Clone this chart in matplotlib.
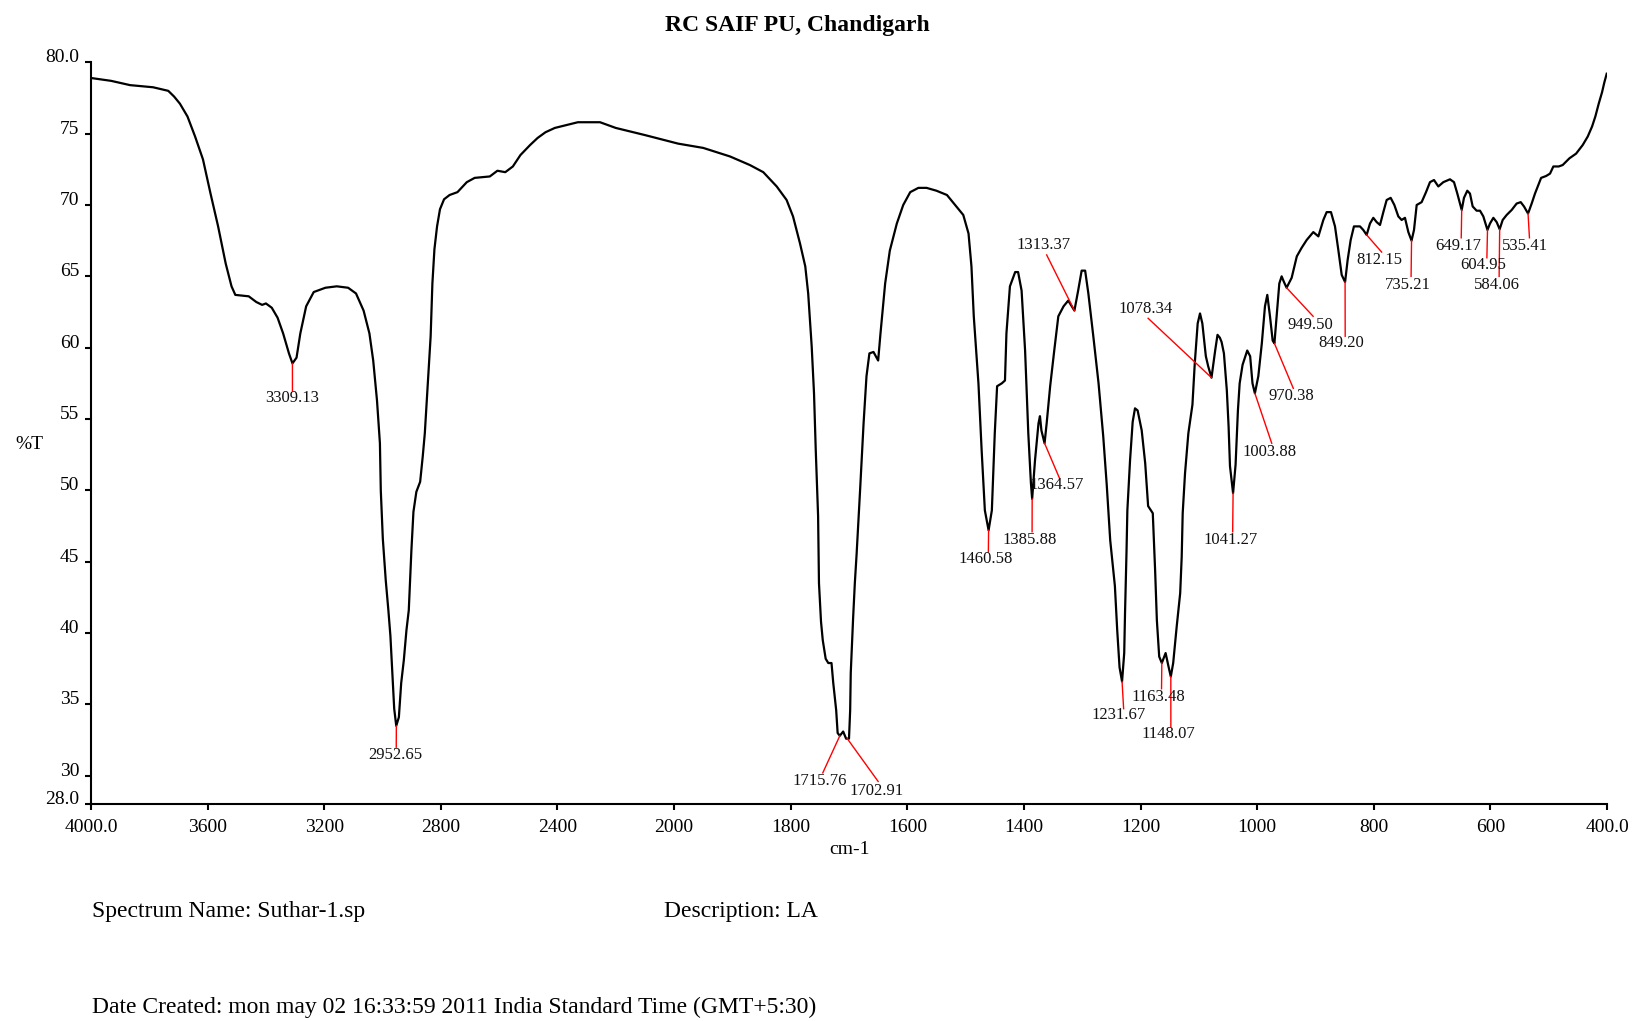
import numpy as np
import matplotlib
matplotlib.use('Agg')
import matplotlib.pyplot as plt

# spectrum (wavenumber cm-1, %T)
wavenumber = [
    4000, 3931, 3866, 3787, 3735, 3715, 3695, 3669, 3643, 3616, 3590, 3564, 3538, 3518, 3505,
    3459, 3433, 3413, 3400, 3380, 3360, 3341, 3321, 3309, 3295, 3282, 3262, 3236, 3196, 3157,
    3118, 3091, 3065, 3045, 3032, 3019, 3009, 3006, 2999, 2989, 2980, 2973, 2967, 2960, 2953,
    2944, 2936, 2927, 2918, 2910, 2901, 2894, 2884, 2871, 2862, 2855, 2844, 2835, 2829, 2822,
    2813, 2803, 2789, 2770, 2743, 2711, 2684, 2632, 2606, 2579, 2553, 2527, 2494, 2468, 2441,
    2409, 2369, 2330, 2254, 2200, 2100, 1993, 1950, 1904, 1870, 1847, 1824, 1807, 1796, 1784,
    1775, 1770, 1764, 1760, 1757, 1753, 1751.5, 1748, 1745, 1740, 1735.5, 1730, 1727, 1722,
    1719.5, 1715.8, 1710, 1705, 1700, 1698, 1697, 1693, 1690, 1687, 1681, 1675, 1670, 1665,
    1658, 1650, 1646, 1638, 1630, 1618, 1607, 1595, 1581, 1567, 1550, 1532, 1518, 1504, 1495,
    1490, 1486, 1478, 1472.5, 1467, 1460.6, 1455, 1450, 1446, 1438, 1432.5, 1430, 1424, 1415,
    1410, 1404, 1398, 1392.5, 1388, 1385.9, 1381, 1375, 1372.5, 1370, 1364.6, 1361, 1355, 1348,
    1341, 1332, 1324, 1313.4, 1307, 1301, 1295, 1289.5, 1281, 1272, 1264, 1258, 1252, 1244,
    1240, 1236, 1231.7, 1228, 1226.6, 1224, 1222.6, 1218, 1213.5, 1209.5, 1205, 1198, 1192,
    1187, 1179, 1175, 1172, 1168, 1163.5, 1157, 1152, 1148.1, 1144, 1138, 1132, 1129.4, 1127.7,
    1123.7, 1118, 1111, 1107, 1102, 1098, 1094, 1088, 1084, 1078.3, 1072, 1068, 1064, 1061,
    1057, 1052, 1049, 1046.6, 1041.3, 1037, 1033, 1030, 1025, 1017, 1012, 1008, 1003.9, 998,
    992, 986.6, 982.6, 978, 973.4, 970.4, 966.6, 962, 958, 954, 949.5, 940.8, 932, 923.7, 915,
    903.7, 895, 886.5, 880.8, 873.4, 866.5, 860.8, 855, 849.2, 844.8, 839.6, 834, 823.6, 818,
    812.2, 806.5, 800.8, 795, 789.3, 783.6, 777.9, 771, 764.7, 757.9, 752.2, 746.5, 740.7,
    735.2, 731, 726.4, 717.9, 710.4, 703.6, 696.7, 689.3, 680.7, 669.3, 662.4, 656.7, 649.2,
    645.3, 639.6, 635, 630.4, 623.6, 617.8, 612.1, 605, 600.7, 594.9, 589.2, 584.1, 578.9,
    572.1, 563.5, 555, 548, 542.4, 535.4, 529.2, 523.5, 518.8, 513, 504.5, 497.7, 492, 482.8,
    476, 464.5, 453, 441.7, 433, 425.6, 420, 414.2, 408.5, 404.5, 400.5,
]
transmittance = [
    78.9, 78.7, 78.4, 78.25, 78.0, 77.6, 77.1, 76.2, 74.8, 73.2, 70.8, 68.5, 65.9, 64.3, 63.7,
    63.6, 63.2, 63.0, 63.1, 62.8, 62.1, 61.0, 59.6, 58.9, 59.3, 61.0, 62.9, 63.9, 64.2, 64.3,
    64.2, 63.8, 62.6, 61.0, 59.1, 56.3, 53.3, 50.0, 46.6, 43.7, 41.6, 39.8, 37.4, 34.7, 33.5,
    34.1, 36.5, 38.1, 40.2, 41.6, 45.8, 48.5, 49.9, 50.6, 52.4, 54.0, 57.7, 60.8, 64.5, 66.9,
    68.5, 69.7, 70.4, 70.7, 70.9, 71.6, 71.9, 72.0, 72.4, 72.3, 72.7, 73.5, 74.2, 74.7, 75.1,
    75.4, 75.6, 75.8, 75.8, 75.4, 74.9, 74.3, 74.0, 73.4, 72.8, 72.3, 71.3, 70.35, 69.2, 67.3,
    65.7, 63.8, 60.1, 56.8, 52.8, 48.2, 43.5, 40.8, 39.5, 38.2, 37.9, 37.9, 36.5, 34.6,
    33.0, 32.8, 33.1, 32.6, 32.6, 34.6, 37.2, 41.0, 43.5, 45.5, 50.0, 54.7, 58.0, 59.6,
    59.7, 59.1, 61.0, 64.5, 66.8, 68.7, 70.0, 70.9, 71.2, 71.2, 71.0, 70.7, 70.0, 69.3, 68.0,
    65.7, 62.2, 57.5, 52.8, 48.6, 47.2, 48.6, 54.0, 57.3, 57.5, 57.7, 61.0, 64.3, 65.3,
    65.3, 64.0, 59.8, 54.0, 50.5, 49.4, 52.1, 54.7, 55.2, 54.2, 53.3, 54.7, 57.3, 59.8,
    62.2, 62.9, 63.3, 62.6, 64.0, 65.4, 65.4, 63.8, 60.8, 57.5, 53.8, 50.4, 46.5, 43.3,
    40.2, 37.6, 36.6, 38.6, 41.4, 45.8, 48.6, 52.1, 54.8, 55.75, 55.6, 54.2, 51.9,
    48.9, 48.4, 44.4, 40.9, 38.35, 37.9, 38.6, 37.65, 36.95, 37.9, 40.45, 42.8, 45.35, 48.4,
    51.2, 54.0, 56.0, 58.9, 61.7, 62.4, 61.7, 59.4, 58.7, 57.9, 59.8, 60.9, 60.7, 60.4,
    59.6, 57.0, 54.5, 51.7, 49.8, 51.8, 55.6, 57.5, 58.8, 59.8, 59.4, 57.5, 56.8, 58.0,
    60.3, 62.9, 63.7, 62.2, 60.5, 60.3, 62.2, 64.5, 65.0, 64.6, 64.2, 64.9, 66.4, 67.0, 67.55,
    68.1, 67.8, 68.95, 69.5, 69.5, 68.5, 66.85, 65.1, 64.6, 66.15, 67.55, 68.5, 68.5, 68.25,
    67.9, 68.7, 69.1, 68.8, 68.6, 69.5, 70.35, 70.5, 70.0, 69.2, 68.95, 69.1, 68.1,
    67.5, 68.25, 70.0, 70.2, 70.9, 71.6, 71.75, 71.3, 71.6, 71.8, 71.6, 70.8, 69.65,
    70.5, 71.0, 70.8, 69.9, 69.6, 69.6, 69.2, 68.25, 68.7, 69.1, 68.8, 68.3, 68.95,
    69.3, 69.65, 70.1, 70.2, 69.9, 69.4, 70.1, 70.8, 71.3, 71.9, 72.03, 72.2, 72.7, 72.7,
    72.8, 73.27, 73.6, 74.2, 74.8, 75.5, 76.2, 77.1, 77.9, 78.6, 79.2,
]

# labelled peaks
peak_labels = ['3309.13', '2952.65', '1715.76', '1702.91', '1460.58', '1385.88', '1364.57',
               '1313.37', '1231.67', '1163.48', '1148.07', '1078.34', '1041.27', '1003.88',
               '970.38', '949.50', '849.20', '812.15', '735.21', '649.17', '604.95',
               '584.06', '535.41']
peak_t = [58.9, 33.5, 32.8, 32.6, 47.2, 49.4, 53.3, 62.6, 36.6, 37.9, 36.95, 57.9, 49.8,
          56.8, 60.3, 64.2, 64.6, 67.9, 67.5, 69.65, 68.25, 68.3, 69.4]

x_ticks = [4000, 3600, 3200, 2800, 2400, 2000, 1800, 1600, 1400, 1200, 1000, 800, 600, 400]
x_ticklabels = ['4000.0', '3600', '3200', '2800', '2400', '2000', '1800', '1600', '1400',
                '1200', '1000', '800', '600', '400.0']
y_ticks = [28, 30, 35, 40, 45, 50, 55, 60, 65, 70, 75, 80]
y_ticklabels = ['28.0', '30', '35', '40', '45', '50', '55', '60', '65', '70', '75', '80.0']

# where each red leader line ends and where its label sits (wn, %T)
leader_end = [(3309, 57.0), (2953, 32.0), (1745, 30.2), (1650, 29.6), (1461, 45.7),
              (1386, 47.1), (1339, 50.85), (1361, 66.5), (1229, 34.7), (1164, 36.1),
              (1148, 33.45), (1187, 62.06), (1042, 47.1), (975, 53.3), (938, 57.15),
              (904, 62.2), (849, 60.8), (786.5, 66.7), (736, 65.0), (650, 67.7),
              (606, 66.3), (585, 65.0), (533, 67.7)]
label_pos = [(3309, 56.45), (2955, 31.45), (1750, 29.6), (1653, 28.95), (1465, 45.2),
             (1390, 46.5), (1344, 50.4), (1366, 67.2), (1238, 34.25), (1169, 35.5),
             (1152, 32.9), (1192, 62.7), (1046, 46.5), (979, 52.7), (942, 56.6),
             (909, 61.6), (855, 60.3), (790, 66.15), (741, 64.4), (655, 67.1),
             (612, 65.8), (589, 64.4), (540, 67.1)]


# x axis is compressed 2:1 above 2000 cm-1
def fwd(w):
    w = np.asarray(w, dtype=float)
    return np.where(w >= 2000, 8 + (w - 2000) / 400.0, (w - 400) / 200.0)


def inv(u):
    u = np.asarray(u, dtype=float)
    return np.where(u >= 8, 2000 + (u - 8) * 400.0, 400 + u * 200.0)


plt.rcParams['font.family'] = ['Liberation Serif', 'DejaVu Serif']

fig = plt.figure(figsize=(16.36, 10.21), dpi=100)
ax = fig.add_axes([91 / 1636, 1 - 804.3 / 1021, 1516 / 1636, 742 / 1021])
ax.set_xscale('function', functions=(fwd, inv))

ax.plot(wavenumber, transmittance, color='black', lw=1.6)

for lab, pt, (ex, ey), (tx, ty) in zip(peak_labels, peak_t, leader_end, label_pos):
    pw = float(lab)
    ax.plot([pw, ex], [pt, ey], color='#ff0000', lw=1.0)
    ax.text(tx, ty, lab, ha='center', va='center', fontsize=12, color='#111111')

ax.set_xlim(4000, 400)
ax.set_ylim(28, 80)
ax.set_xticks(x_ticks)
ax.set_xticklabels(x_ticklabels)
ax.set_yticks(y_ticks)
ax.set_yticklabels(y_ticklabels)
ax.minorticks_off()
for lbl in ax.get_yticklabels():
    lbl.set_va('baseline')

for side in ['top', 'right']:
    ax.spines[side].set_visible(False)
for side in ['left', 'bottom']:
    ax.spines[side].set_linewidth(1.5)
ax.tick_params(direction='out', length=4.5, width=1.5, labelsize=14, pad=4)
ax.tick_params(axis='x', pad=6)

fig.text(797 / 1636, 1 - 25 / 1021, 'RC SAIF PU, Chandigarh', ha='center', va='center',
         fontsize=17, fontweight='bold')
fig.text(849 / 1636, 1 - 850 / 1021, 'cm-1', ha='center', va='center', fontsize=14)
fig.text(29 / 1636, 1 - 444 / 1021, '%T', ha='center', va='center', fontsize=14)
fig.text(92 / 1636, 1 - 911 / 1021, 'Spectrum Name: Suthar-1.sp', ha='left', va='center',
         fontsize=17)
fig.text(664 / 1636, 1 - 911 / 1021, 'Description: LA', ha='left', va='center', fontsize=17)
fig.text(92 / 1636, 1 - 1007 / 1021,
         'Date Created: mon may 02 16:33:59 2011 India Standard Time (GMT+5:30)',
         ha='left', va='center', fontsize=17)

fig.savefig('out.png', dpi=100)
